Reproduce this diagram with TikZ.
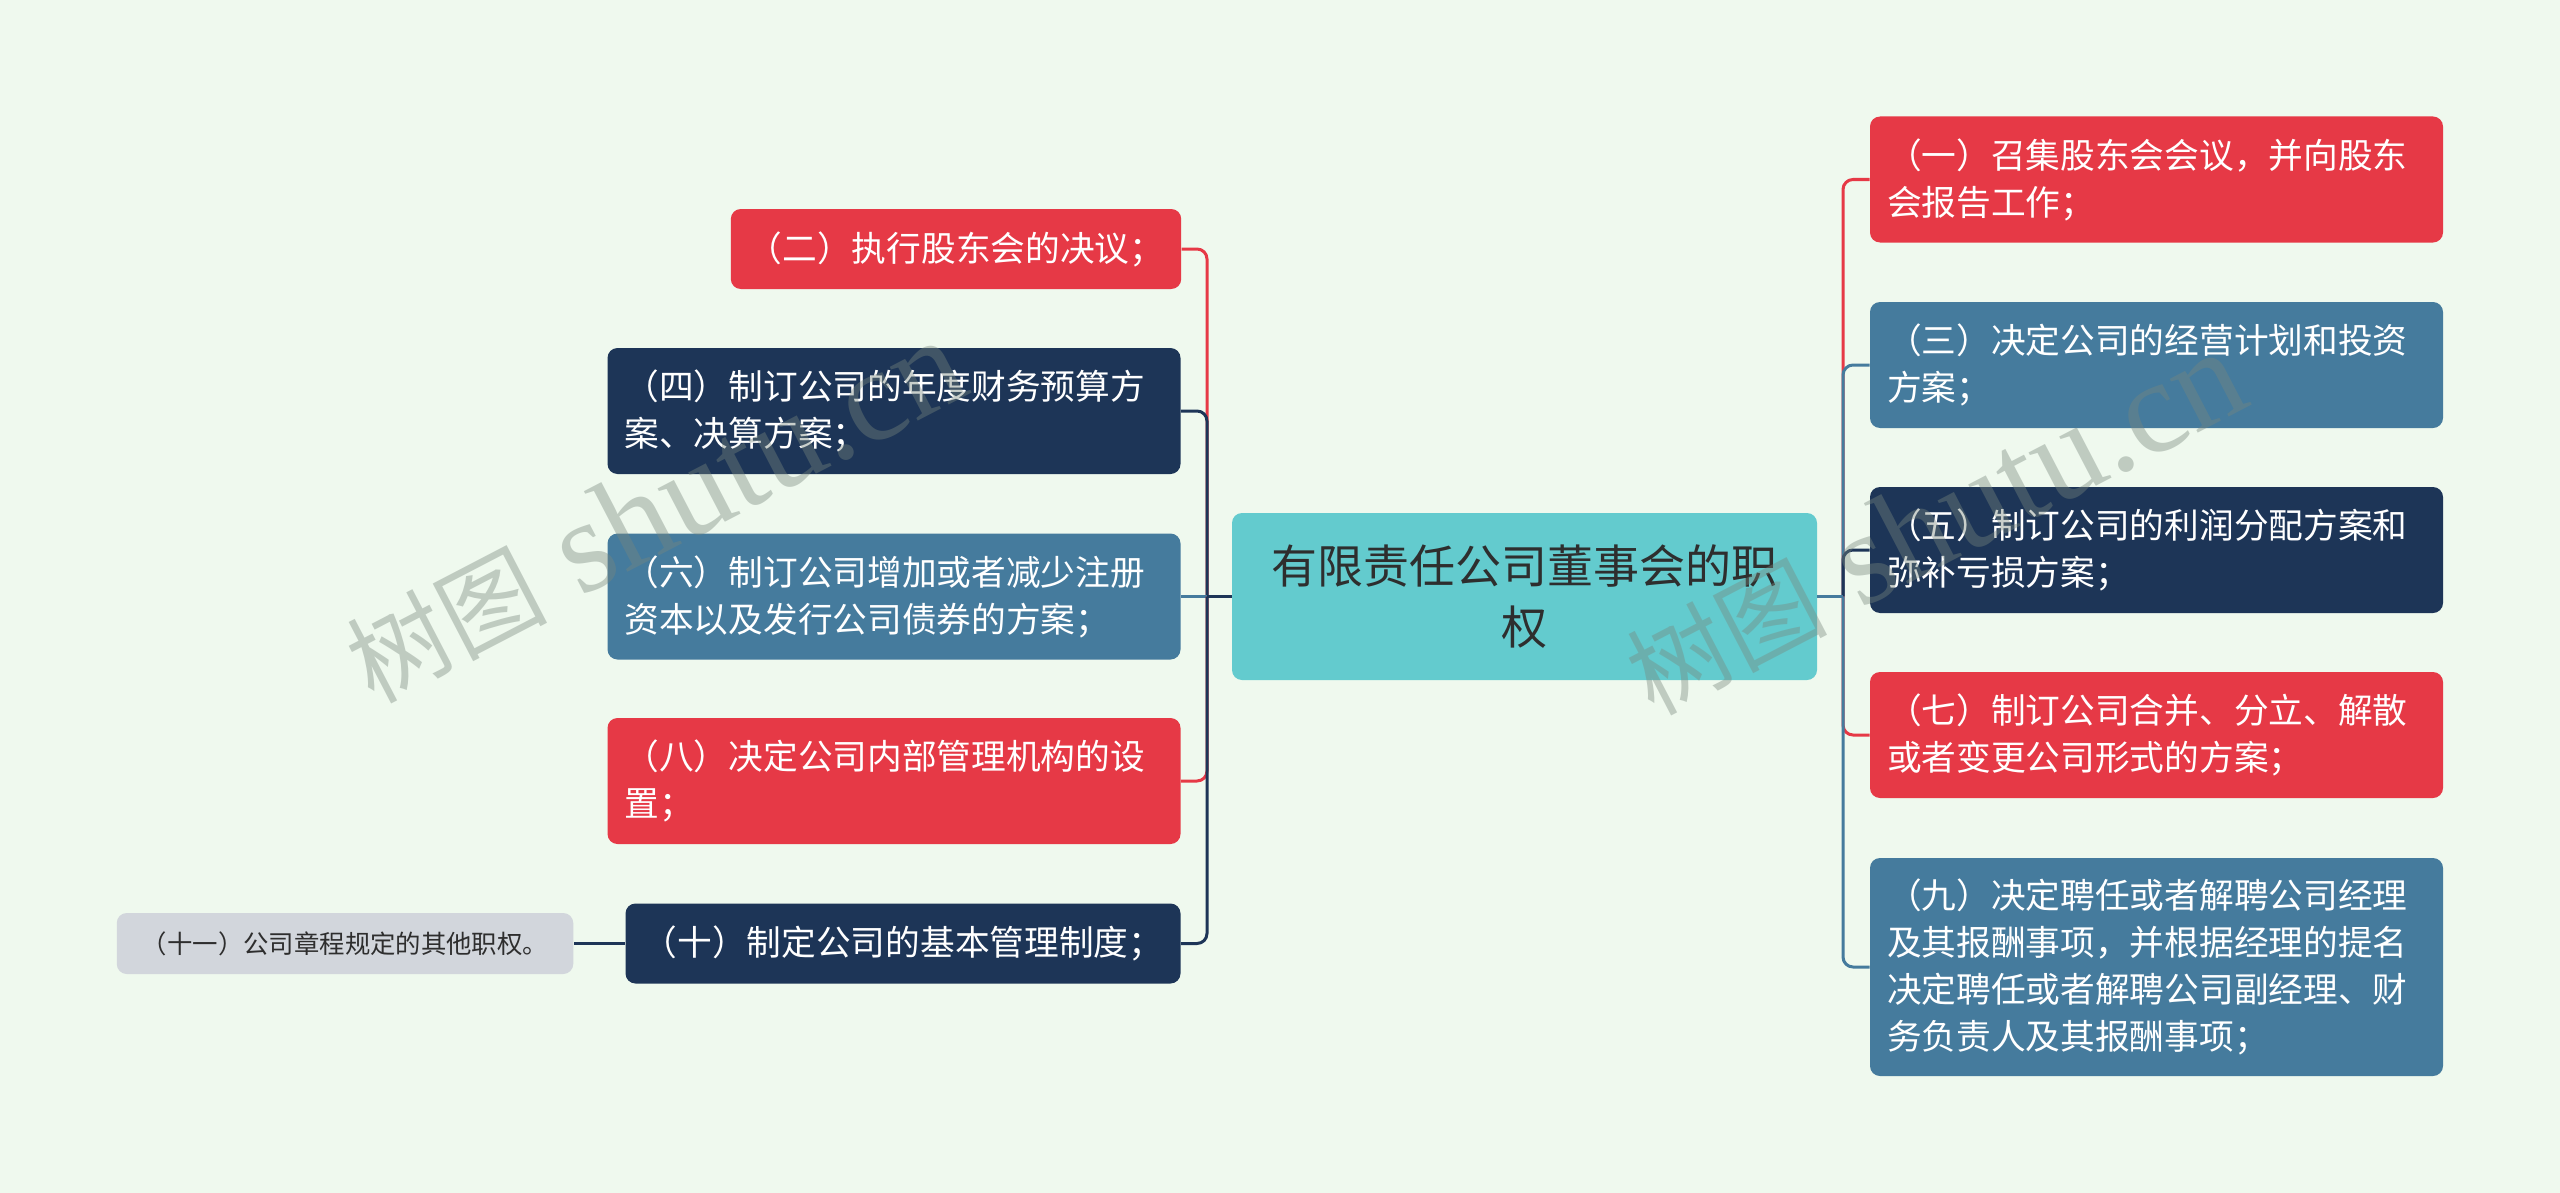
\documentclass[tikz,border=0pt]{standalone}
\usepackage{fontspec}
\newfontfamily\cjk{Noto Sans CJK SC}
\newfontfamily\wmlatin{Liberation Serif}
\definecolor{bgc}{HTML}{EFF9EE}
\definecolor{cred}{HTML}{E63946}
\definecolor{cnavy}{HTML}{1D3557}
\definecolor{csteel}{HTML}{457B9D}
\definecolor{cteal}{HTML}{63CBCE}
\definecolor{cgray}{HTML}{D2D6DC}
\definecolor{ctext}{HTML}{2E2E2E}
\definecolor{wmcol}{HTML}{78877D}
\tikzset{
  mbox/.style={rounded corners=5pt, inner xsep=8.5pt, inner ysep=0pt, text=white,
    font=\cjk\fontsize{17.35pt}{23.5pt}\selectfont},
  multibox/.style={mbox, text width=269.5pt, align=left, minimum height=63pt},
  singlebox/.style={mbox, minimum height=40pt},
  redfill/.style={fill=cred},
  navyfill/.style={fill=cnavy},
  steelfill/.style={fill=csteel},
  conn/.style={line width=1.5pt, rounded corners=5pt},
  wmark/.style={text=wmcol, text opacity=0.4, inner sep=0pt, anchor=west, rotate=27.5}
}
\begin{document}
\begin{tikzpicture}[x=0.5pt,y=-0.5pt]
\fill[bgc] (0,0) rectangle (2560,1193);
\useasboundingbox (0,0) rectangle (2560,1193);

% center
\node[rounded corners=5pt, fill=cteal, text=ctext, inner xsep=16.25pt, inner ysep=0pt,
      text width=260pt, align=center, minimum height=83.5pt,
      font=\cjk\fontsize{23pt}{30.5pt}\selectfont] (C) at (1524.5,596.5)
  {有限责任公司董事会的职\\权};

% left children
\node[singlebox, redfill, minimum width=225pt] (L2) at (956,249) {（二）执行股东会的决议；};
\node[multibox, navyfill] (L4) at (894,411) {（四）制订公司的年度财务预算方\\案、决算方案；};
\node[multibox, steelfill] (L6) at (894,596.5) {（六）制订公司增加或者减少注册\\资本以及发行公司债券的方案；};
\node[multibox, redfill] (L8) at (894,781) {（八）决定公司内部管理机构的设\\置；};
\node[singlebox, navyfill, minimum width=277.5pt] (L10) at (903,943.5) {（十）制定公司的基本管理制度；};
\node[rounded corners=5pt, fill=cgray, text=ctext, inner sep=0pt, minimum width=228.25pt,
      minimum height=30.5pt, font=\cjk\fontsize{12.7pt}{15pt}\selectfont] (L11) at (345,943.5)
  {（十一）公司章程规定的其他职权。};

% right children
\node[multibox, redfill] (R1) at (2156.5,179.5) {（一）召集股东会会议，并向股东\\会报告工作；};
\node[multibox, steelfill] (R3) at (2156.5,365) {（三）决定公司的经营计划和投资\\方案；};
\node[multibox, navyfill] (R5) at (2156.5,550) {（五）制订公司的利润分配方案和\\弥补亏损方案；};
\node[multibox, redfill] (R7) at (2156.5,735) {（七）制订公司合并、分立、解散\\或者变更公司形式的方案；};
\node[multibox, steelfill, minimum height=109pt] (R9) at (2156.5,967)
  {（九）决定聘任或者解聘公司经理\\及其报酬事项，并根据经理的提名\\决定聘任或者解聘公司副经理、财\\务负责人及其报酬事项；};

% connectors
\coordinate (LT) at (1207,596.5);
\coordinate (RT) at (1843,596.5);
\draw[conn, cred] (LT) |- (L2.east);
\draw[conn, cnavy] (LT) |- (L4.east);
\draw[conn, csteel] (L6.east) -- (LT);
\draw[conn, cred] (LT) |- (L8.east);
\draw[conn, cnavy] (LT) |- (L10.east);
\draw[line width=1.5pt, cnavy] (C.west) -- (LT);
\draw[line width=1.5pt, cnavy] (L10.west) -- (L11.east);

\draw[conn, cred] (RT) |- (R1.west);
\draw[conn, csteel] (RT) |- (R3.west);
\draw[conn, cnavy] (RT) |- (R5.west);
\draw[conn, cred] (RT) |- (R7.west);
\draw[conn, csteel] (RT) |- (R9.west);
\draw[line width=1.5pt, csteel] (C.east) -- (RT);

% watermarks
\node[wmark] (wm1) at (354,668) {{\cjk\fontsize{50pt}{60pt}\selectfont 树图}{\wmlatin\fontsize{66pt}{70pt}\selectfont\ shutu.cn}};
\node[wmark] (wm2) at (1634,680) {{\cjk\fontsize{50pt}{60pt}\selectfont 树图}{\wmlatin\fontsize{66pt}{70pt}\selectfont\ shutu.cn}};
\end{tikzpicture}
\end{document}
